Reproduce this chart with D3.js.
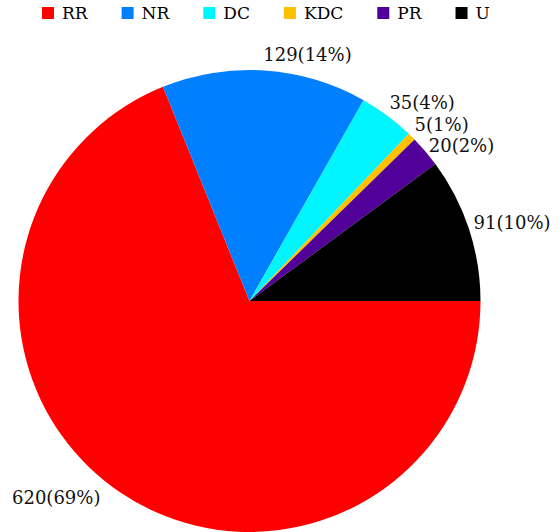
<!DOCTYPE html>
<html>
<head>
<meta charset="utf-8">
<script src="https://cdn.jsdelivr.net/npm/d3@7"></script>
<style>
  body { margin: 0; background: #fff; }
  svg { display: block; font-family: "DejaVu Serif", serif; }
</style>
</head>
<body>
<div id="chart"></div>
<script>
const categories = ['RR', 'NR', 'DC', 'KDC', 'PR', 'U'];
const counts = [620, 129, 35, 5, 20, 91];
const colors = ['#ff0000', '#0080ff', '#00f5ff', '#ffc000', '#52009a', '#000000'];

const width = 560, height = 532;
const cx = 249.5, cy = 301, radius = 231;
const labelRadius = 238;

const svg = d3.select('#chart')
  .append('svg')
  .attr('width', width)
  .attr('height', height);

const total = d3.sum(counts);
const data = categories.map((c, i) => ({ name: c, value: counts[i], color: colors[i] }));

// slices start at 3 o'clock and run clockwise
const pie = d3.pie()
  .value(d => d.value)
  .sort(null)
  .startAngle(Math.PI / 2)
  .endAngle(Math.PI / 2 + 2 * Math.PI);

const arc = d3.arc().innerRadius(0).outerRadius(radius);
const arcs = pie(data);

const g = svg.append('g').attr('transform', `translate(${cx},${cy})`);

g.selectAll('path')
  .data(arcs)
  .enter()
  .append('path')
  .attr('d', arc)
  .attr('fill', d => d.data.color);

// labels
const labels = arcs.map(d => {
  const a = (d.startAngle + d.endAngle) / 2;
  const sx = Math.sin(a), cyv = -Math.cos(a);
  const right = sx >= 0;
  return {
    text: `${d.data.value}(${Math.round(d.data.value / total * 100)}%)`,
    x: labelRadius * sx,
    y: labelRadius * cyv + 8 * cyv,
    right: right
  };
});

// keep right-side labels from overlapping
const rightLabels = labels.filter(l => l.right).sort((a, b) => a.y - b.y);
for (let i = 1; i < rightLabels.length; i++) {
  if (rightLabels[i].y - rightLabels[i - 1].y < 21) {
    rightLabels[i].y = rightLabels[i - 1].y + 21;
  }
}

g.selectAll('text.lbl')
  .data(labels)
  .enter()
  .append('text')
  .attr('class', 'lbl')
  .attr('x', d => d.right ? d.x - 2 : d.x - 16)
  .attr('y', d => d.right ? d.y - 1 : d.y - 7)
  .attr('dy', '0.35em')
  .attr('text-anchor', d => d.right ? 'start' : 'end')
  .style('font-size', '18px')
  .attr('fill', '#111')
  .text(d => d.text);

// legend
const legend = svg.append('g').attr('transform', 'translate(42,7)');
let lx = 0;
data.forEach(d => {
  const item = legend.append('g').attr('transform', `translate(${lx},0)`);
  item.append('rect')
    .attr('width', 12)
    .attr('height', 12)
    .attr('fill', d.color);
  const t = item.append('text')
    .attr('x', 20)
    .attr('y', 6)
    .attr('dy', '0.35em')
    .style('font-size', '17px')
    .attr('fill', '#000')
    .text(d.name);
  lx += 20 + t.node().getComputedTextLength() + 34;
});
</script>
</body>
</html>
